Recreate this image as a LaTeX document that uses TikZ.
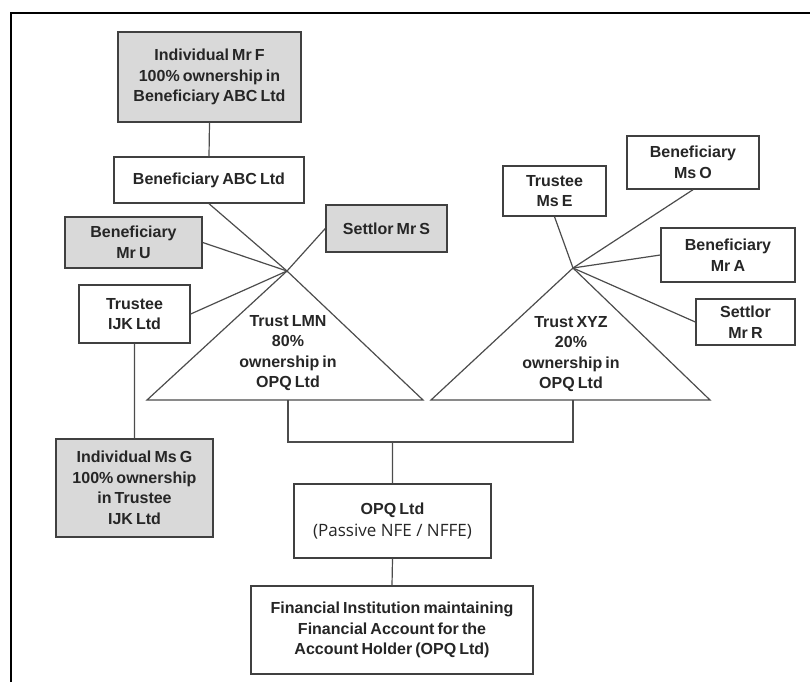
\documentclass[tikz,border=0pt]{standalone}
\usepackage{fontspec}
\setmainfont{Liberation Sans}[WordSpace=0.7]
\newfontfamily\plainfont{Open Sans}
\tikzset{ box/.style  = { rectangle
                        , draw       = black!75
                        , line width = 1.4pt
                        , fill       = white
                        , align      = center
                        , inner sep  = 0pt
                        , text       = black!85
                        , font       = \fontsize{16}{20.5}\selectfont\bfseries
                        },
          grey/.style = { box
                        , fill = black!15
                        },
          link/.style = { draw       = black!70
                        , line width = 1.2pt
                        },
          tri/.style  = { link
                        , line join = miter
                        },
          label/.style = { align = center
                         , inner sep = 0pt
                         , text  = black!85
                         , font  = \fontsize{16}{20.3}\selectfont\bfseries
                         }
        }
\begin{document}
\begin{tikzpicture}[x=1pt, y=-1pt]
          \useasboundingbox (0,0) rectangle (810,682);
          \draw[line width=2.4pt] (11,682) -- (11,13) -- (810,13);
          % boxes of trust LMN
          \node[grey, minimum width=183, minimum height=90] (mrF) at (209.5,77)
               {Individual Mr F\\100\% ownership in\\Beneficiary ABC Ltd};
          \node[box, minimum width=190, minimum height=46] (abc) at (209,180) {Beneficiary ABC Ltd};
          \node[grey, minimum width=137, minimum height=51] (mrU) at (133.5,242.5) {Beneficiary\\Mr U};
          \node[grey, minimum width=121, minimum height=47] (mrS) at (386.5,228.5) {Settlor Mr S};
          \node[box, minimum width=111, minimum height=58] (ijk) at (134.5,314) {Trustee\\IJK Ltd};
          \node[grey, minimum width=157, minimum height=98] (msG) at (134.5,488)
               {Individual Ms G\\100\% ownership\\in Trustee\\IJK Ltd};
          % boxes of trust XYZ
          \node[box, minimum width=103, minimum height=50] (msE) at (554.5,191) {Trustee\\Ms E};
          \node[box, minimum width=132, minimum height=53] (msO) at (693,162.5) {Beneficiary\\Ms O};
          \node[box, minimum width=134, minimum height=54] (mrA) at (728,255) {Beneficiary\\Mr A};
          \node[box, minimum width=99, minimum height=46] (mrR) at (745.5,322) {Settlor\\Mr R};
          % the two trusts
          \coordinate (hubL) at (287,271);
          \coordinate (hubX) at (573,268);
          \draw[tri] (hubL) -- (147,400) -- (423,400) -- cycle;
          \draw[tri] (hubX) -- (431,400) -- (710,400) -- cycle;
          \node[label] (lmn) at (288,353) {Trust LMN\\80\%\\ownership in\\OPQ Ltd};
          \node[label] (xyz) at (571,354) {Trust XYZ\\20\%\\ownership in\\OPQ Ltd};
          \coordinate (footL) at (288,400);
          \coordinate (footX) at (573,400);
          % account holder
          \node[box, minimum width=197, minimum height=74] (opq) at (392.5,521)
               {OPQ Ltd\\[1pt]{\plainfont\mdseries\fontsize{17}{20}\selectfont (Passive NFE / NFFE)}};
          \node[box, minimum width=282, minimum height=88] (fi) at (392,630)
               {Financial Institution maintaining\\Financial Account for the\\Account Holder (OPQ Ltd)};
          \foreach \n in {abc.south, mrU.east, ijk.east, mrS.west} {
            \draw[link] (\n) -- (hubL);
          }
          \foreach \n in {msE.south, msO.south, mrA.west, mrR.west} {
            \draw[link] (\n) -- (hubX);
          }
          \draw[link] (mrF.south) -- (abc.north)
                      (ijk.south) -- (msG.north);
          \draw[link] (footL) -- ++(0,42) -| (footX);
          \draw[link] (opq.north) -- ++(0,-42)
                      (opq.south) -- (fi.north);
        \end{tikzpicture}
\end{document}
